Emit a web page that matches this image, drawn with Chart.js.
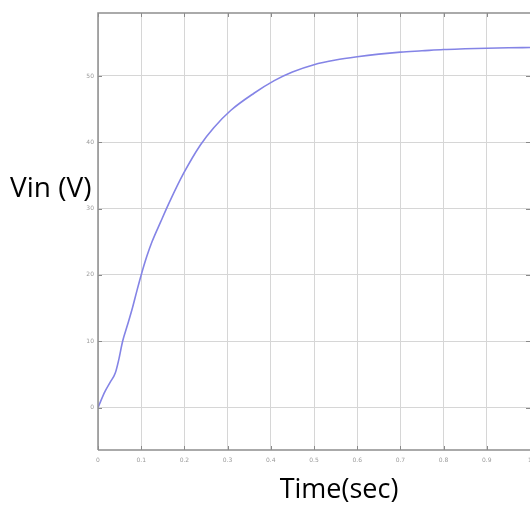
<!DOCTYPE html>
<html>
<head>
<meta charset="utf-8">
<script src="https://cdn.jsdelivr.net/npm/chart.js@4/dist/chart.umd.min.js"></script>
<style>
html,body{margin:0;padding:0;background:#fff;}
#wrap{position:relative;width:530px;height:506px;}
</style>
</head>
<body>
<div id="wrap"><canvas id="c" width="530" height="506"></canvas></div>
<script>
const timeSec = [0, 0.016, 0.028, 0.04, 0.048, 0.057, 0.068, 0.08, 0.09, 0.1, 0.113, 0.125, 0.145, 0.167, 0.198, 0.237, 0.268, 0.307, 0.361, 0.408, 0.45, 0.5, 0.55, 0.6, 0.65, 0.7, 0.75, 0.8, 0.85, 0.9, 0.95, 1.0];
const vin     = [0, 2.4, 3.8, 5.2, 7.2, 10.0, 12.4, 15.1, 17.6, 20, 22.8, 25.0, 28.0, 31.2, 35.3, 39.6, 42.2, 44.8, 47.4, 49.3, 50.6, 51.7, 52.4, 52.9, 53.3, 53.6, 53.8, 54.0, 54.1, 54.18, 54.25, 54.3];
const xTicks = [0, 0.1, 0.2, 0.3, 0.4, 0.5, 0.6, 0.7, 0.8, 0.9, 1];
const yTicks = [0, 10, 20, 30, 40, 50];
const xTitle = "Time(sec)";
const yTitle = "Vin (V)";

const frame = {
  id: 'frame',
  afterDraw(chart) {
    const {ctx, chartArea: a, scales} = chart;
    ctx.save();
    ctx.strokeStyle = '#8a8a8a';
    ctx.lineWidth = 1;
    ctx.beginPath();
    yTicks.forEach(v => {
      const y = Math.round(scales.y.getPixelForValue(v)) + 0.5;
      ctx.moveTo(a.left, y); ctx.lineTo(a.left + 4, y);
      ctx.moveTo(a.right, y); ctx.lineTo(a.right - 4, y);
    });
    xTicks.forEach(v => {
      const x = Math.round(scales.x.getPixelForValue(v)) + 0.5;
      ctx.moveTo(x, a.bottom); ctx.lineTo(x, a.bottom - 4);
      ctx.moveTo(x, a.top); ctx.lineTo(x, a.top + 4);
    });
    ctx.stroke();
    ctx.strokeStyle = '#8f8f8f';
    ctx.lineWidth = 1.5;
    ctx.beginPath();
    ctx.moveTo(a.left, a.bottom); ctx.lineTo(a.left, a.top); ctx.lineTo(a.right, a.top);
    ctx.moveTo(a.left, a.bottom); ctx.lineTo(a.right, a.bottom);
    ctx.stroke();
    ctx.fillStyle = '#000';
    ctx.font = '28px "Open Sans"';
    ctx.textBaseline = 'alphabetic';
    ctx.textAlign = 'left';
    ctx.fillText(yTitle, 10, 197);
    ctx.font = '27px "Open Sans"';
    ctx.textAlign = 'center';
    ctx.fillText(xTitle, 339, 498);
    ctx.restore();
  }
};

new Chart(document.getElementById('c'), {
  type: 'line',
  data: {
    datasets: [{
      data: timeSec.map((t, i) => ({x: t, y: vin[i]})),
      borderColor: 'rgb(132,132,230)',
      borderWidth: 1.6,
      pointRadius: 0,
      fill: false,
      cubicInterpolationMode: 'monotone'
    }]
  },
  options: {
    responsive: false,
    animation: false,
    layout: {padding: {top: 13, right: 0, left: 0, bottom: 0}},
    plugins: {legend: {display: false}, tooltip: {enabled: false}},
    scales: {
      x: {
        type: 'linear', min: 0, max: 1,
        afterBuildTicks: s => { s.ticks = xTicks.map(v => ({value: v})); },
        afterFit: s => { s.height = 56; s.paddingRight = 0; s.paddingLeft = 0; },
        grid: {color: '#d6d6d6', lineWidth: 1, drawTicks: false},
        border: {display: false},
        ticks: {color: '#9a9a9a', font: {size: 6, family: 'DejaVu Sans'}, padding: 7, maxRotation: 0,
                callback: v => String(v)}
      },
      y: {
        type: 'linear', min: -6.4, max: 59.5,
        afterBuildTicks: s => { s.ticks = yTicks.map(v => ({value: v})); },
        afterFit: s => { s.width = 98; s.paddingTop = 0; s.paddingBottom = 0; },
        grid: {color: '#d6d6d6', lineWidth: 1, drawTicks: false},
        border: {display: false},
        ticks: {color: '#9a9a9a', font: {size: 6, family: 'DejaVu Sans'}, padding: 4,
                callback: v => String(v)}
      }
    }
  },
  plugins: [frame]
});
</script>
</body>
</html>
